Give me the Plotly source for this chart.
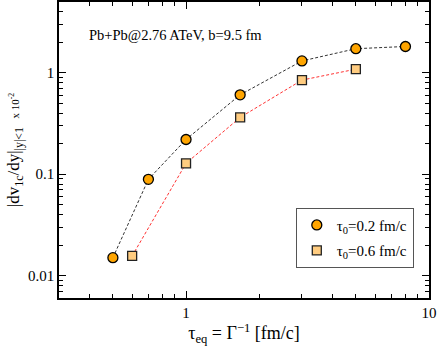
import plotly.graph_objects as go

tau_a = [0.5, 0.7, 1.0, 1.67, 3.0, 5.0, 8.0]
v1_a = [0.015, 0.089, 0.22, 0.607, 1.31, 1.73, 1.82]
tau_b = [0.6, 1.0, 1.67, 3.0, 5.0]
v1_b = [0.0156, 0.128, 0.363, 0.848, 1.087]

xticks = [1, 10]
xticklabels = ["1", "10"]
yticks = [0.01, 0.1, 1]
yticklabels = ["0.01", "0.1", "1"]

FONT = "Liberation Serif"

fig = go.Figure()
fig.add_trace(go.Scatter(
    x=tau_a, y=v1_a, mode="lines", showlegend=False, hoverinfo="skip",
    line=dict(color="#333333", width=1, dash="3px,2px"),
))
fig.add_trace(go.Scatter(
    x=tau_b, y=v1_b, mode="lines", showlegend=False, hoverinfo="skip",
    line=dict(color="#FF3333", width=1, dash="3px,2px"),
))
fig.add_trace(go.Scatter(
    x=tau_a, y=v1_a, mode="markers", name="τ<sub>0</sub>=0.2 fm/c", legendgroup="a",
    marker=dict(symbol="circle", size=10, color="#FFA500", line=dict(color="black", width=1.3)),
))
fig.add_trace(go.Scatter(
    x=tau_b, y=v1_b, mode="markers", name="τ<sub>0</sub>=0.6 fm/c", legendgroup="b",
    marker=dict(symbol="square", size=9, color="#FFCC80", line=dict(color="#222222", width=1.3)),
))

axis_common = dict(
    type="log", showgrid=False, zeroline=False, showline=True, linecolor="black", linewidth=1.5,
    mirror="allticks", ticks="inside", ticklen=7, tickwidth=1, tickcolor="black",
    tickfont=dict(family=FONT, size=15, color="black"), automargin=False,
    minor=dict(ticks="inside", ticklen=4, tickwidth=1, tickcolor="black", dtick="D1", showgrid=False),
)

fig.update_layout(
    width=437, height=346,
    margin=dict(l=59, r=8, t=2, b=48),
    plot_bgcolor="white", paper_bgcolor="white",
    font=dict(family=FONT, color="black"),
    xaxis=dict(axis_common, range=[-0.5229, 1.0], tickvals=xticks, ticktext=xticklabels,
               title=dict(text="τ<sub>eq</sub> = Γ<sup>−1</sup> [fm/c]", font=dict(family=FONT, size=18), standoff=2)),
    yaxis=dict(axis_common, range=[-2.2218, 0.699], tickvals=yticks, ticktext=yticklabels,
               title=dict(text="|dv<sub>1c</sub>/dy|<sub>|y|<1</sub>  <span style='font-size:11px'>x 10<sup>-2</sup></span>",
                          font=dict(family=FONT, size=17), standoff=4)),
    showlegend=True,
    legend=dict(x=0.64, y=0.305, xanchor="left", yanchor="top", bgcolor="white",
                bordercolor="#555555", borderwidth=1, font=dict(family=FONT, size=15),
                itemwidth=30, traceorder="grouped", tracegroupgap=3),
    annotations=[dict(text="Pb+Pb@2.76 ATeV, b=9.5 fm", xref="paper", yref="paper",
                      x=0.076, y=0.889, xanchor="left", yanchor="middle", showarrow=False,
                      font=dict(family=FONT, size=14.5))],
)

fig.write_html("out.html", config={"displayModeBar": False},
               post_script="document.body.style.margin='0';document.body.style.overflow='hidden';")
